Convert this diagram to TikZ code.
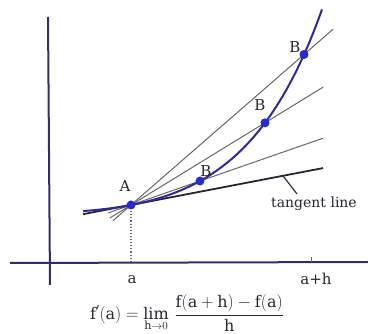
\documentclass[tikz,border=0pt]{standalone}
\usepackage{fontspec}
\setmainfont{DejaVu Serif}
\usetikzlibrary{calc}
\definecolor{axisblue}{HTML}{352C6A}
\definecolor{curveblue}{HTML}{33289A}
\definecolor{dotblue}{HTML}{2A2AD2}
\definecolor{secgray}{HTML}{666666}
\definecolor{inkgray}{HTML}{26262E}
\begin{document}
\begin{tikzpicture}[x=1pt, y=-1pt, font=\fontsize{15}{17}\selectfont, text=inkgray,
  axisline/.style={line width=2pt, axisblue},
  secant/.style={line width=1pt, secgray},
  ptdot/.style={circle, fill=dotblue, inner sep=0pt, minimum size=9pt},
  lbl/.style={inner sep=0pt}]
\useasboundingbox (0,0) rectangle (368,334);
% axes
\coordinate (yb) at (50,285);
\coordinate (yt) at (48,17);
\coordinate (xl) at (10,263);
\coordinate (xr) at (368,262);
\draw[axisline] (yb) -- (yt);
\draw[axisline] (xl) -- (xr);
% points on the curve
\coordinate (A) at (131,205);
\coordinate (B1) at (200,181);
\coordinate (B2) at (265,122.8);
\coordinate (B3) at (304,54.5);
% secants through A and each B
\foreach \b/\s/\e in {B1/-0.33/2.78, B2/-0.157/1.433, B3/-0.104/1.168} {
  \draw[secant] ($(A)!\s!(\b)$) -- ($(A)!\e!(\b)$);
}
% tangent line at A
\coordinate (T0) at (83,214.2);
\coordinate (T1) at (323,168.1);
\draw[line width=1.8pt, inkgray] (T0) -- (T1);
% the curve
\draw[line width=2pt, curveblue] plot[domain=-48:191, samples=80]
  ({131+\x},{205-0.192*\x-21.2*(exp(0.0125*\x)-1-0.0125*\x)});
% drop from A, tick at a+h
\draw[dotted, line width=1.1pt, secgray] (A) -- (A |- xl);
\coordinate (ah) at (311,262);
\draw[line width=0.8pt, secgray] (ah) -- ++(0,-5);
\foreach \p in {A,B1,B2,B3} {
  \node[ptdot] (d\p) at (\p) {};
}
% labels
\node[lbl] (labA) at (125,186) {A};
\node[lbl] (labB1) at (206,171) {B};
\node[lbl] (labB2) at (260,105) {B};
\node[lbl] (labB3) at (295,47) {B};
\node[lbl, font=\fontsize{14}{16}\selectfont] (tl) at (314,204) {tangent line};
\coordinate (tp) at (283,175.8);
\coordinate (te) at (297,194);
\draw[line width=1.1pt, inkgray] (tp) -- (te);
\node[lbl] (la) at (132,280) {a};
\node[lbl] (lah) at (316,279) {a+h};
\node[lbl, font=\fontsize{16}{18}\selectfont] (fm) at (187,313)
  {$\mathrm{f}'\mathrm{(a)} = \lim\limits_{\mathrm{h}\to 0}\, \displaystyle\frac{\mathrm{f(a + h)} - \mathrm{f(a)}}{\mathrm{h}}$};
\end{tikzpicture}
\end{document}
